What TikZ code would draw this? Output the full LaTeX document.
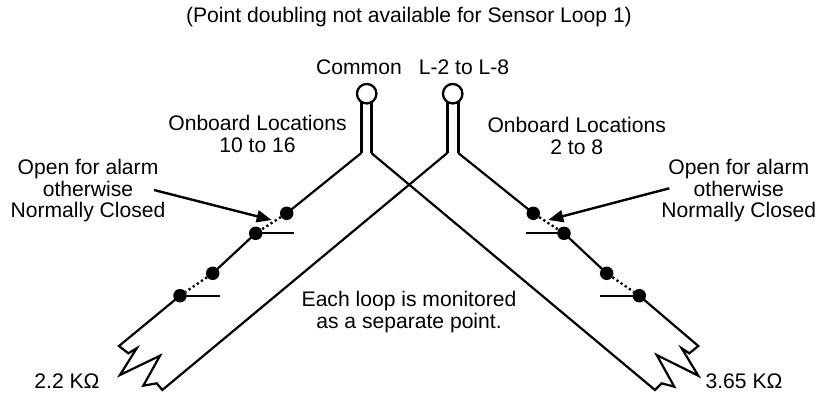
\documentclass[tikz,border=0pt]{standalone}
\usepackage{fontspec}
\setmainfont{Liberation Sans}
\usetikzlibrary{arrows.meta}
\tikzset{
  x=1pt,y=-1pt,
  wire/.style={line width=2.2pt,line join=miter,black},
  thick wire/.style={line width=3pt,black},
  contact/.style={circle,fill=black,draw=none,minimum size=13.5pt,inner sep=0pt},
  terminal/.style={circle,fill=white,draw=black,line width=2.3pt,minimum size=19.5pt,inner sep=0pt},
  lab/.style={font=\fontsize{21.1pt}{21.5pt}\selectfont,align=center,inner sep=0pt,black},
  link/.style={line width=2.4pt,dash pattern=on 2.2pt off 2.8pt,black},
  pointer/.style={line width=2.4pt,black,-{Triangle[length=15pt,width=12pt]}}
}
\begin{document}
\begin{tikzpicture}
\useasboundingbox (0,0) rectangle (819,393);
% terminals and junctions
\coordinate (cl) at (361.3,153);
\coordinate (cr) at (371.3,153);
\coordinate (ll) at (447.3,153);
\coordinate (lr) at (458.3,153);
\draw[thick wire] (cl) -- (361.3,100);
\draw[thick wire] (cr) -- (371.3,100);
\draw[thick wire] (ll) -- (447.3,100);
\draw[thick wire] (lr) -- (458.3,100);
\node[terminal] (common) at (366.7,93.7) {};
\node[terminal] (l28) at (452.7,93.7) {};
% contacts
\node[contact] (a1) at (286.7,213.3) {};
\node[contact] (a2) at (255.7,233.3) {};
\node[contact] (a3) at (212.7,273.3) {};
\node[contact] (a4) at (180,295.7) {};
\node[contact] (b1) at (533.3,213.3) {};
\node[contact] (b2) at (564,233.3) {};
\node[contact] (b3) at (606.7,273.3) {};
\node[contact] (b4) at (639.3,295.7) {};
\coordinate (a2e) at (294,233.3);
\coordinate (a4e) at (220,295.7);
\coordinate (b2e) at (526,233.3);
\coordinate (b4e) at (600,295.7);
\draw[wire] (a2.center) -- (a2e);
\draw[wire] (a4.center) -- (a4e);
\draw[wire] (b2.center) -- (b2e);
\draw[wire] (b4.center) -- (b4e);
\draw[link] (a1) -- (a2);
\draw[link] (a3) -- (a4);
\draw[link] (b1) -- (b2);
\draw[link] (b3) -- (b4);
\draw[wire] (cl) -- (a1.center);
\draw[wire] (a2.center) -- (a3.center);
\draw[wire] (lr) -- (b1.center);
\draw[wire] (b2.center) -- (b3.center);
% left loop with resistor
\draw[wire] (a4.center) -- (119,346) -- (128.3,353.3) -- (136.7,348.3) -- (120,375) -- (160,355.7) -- (143.3,385.7) -- (156.7,383.3) -- (162.3,390) -- (ll);
% right loop with resistor
\draw[wire] (b4.center) -- (698.3,346) -- (689.3,353.3) -- (681.7,348.3) -- (698.3,375.7) -- (656.7,355) -- (674.3,386.7) -- (661.7,383.3) -- (655,390) -- (cr);
% labels
\node[lab] (title) at (409,17) {(Point doubling not available for Sensor Loop 1)};
\node[lab] (tcommon) at (359,67) {Common};
\node[lab] (tl) at (464,67) {L-2 to L-8};
\node[lab] (on1) at (257.5,134) {Onboard Locations\\10 to 16};
\node[lab] (on2) at (576.7,136) {Onboard Locations\\2 to 8};
\node[lab] (open1) at (88,191) {Open for alarm\\otherwise\\Normally Closed};
\node[lab] (open2) at (738.8,191) {Open for alarm\\otherwise\\Normally Closed};
\node[lab] (each) at (409,312) {Each loop is monitored\\as a separate point.};
\node[lab] (r1) at (67,381) {2.2 KΩ};
\node[lab] (r2) at (744,381) {3.65 KΩ};
% pointers
\coordinate (p1) at (154,190);
\coordinate (p1t) at (271.7,220);
\coordinate (p2) at (669.3,188.3);
\coordinate (p2t) at (548.3,220);
\draw[pointer] (p1) -- (p1t);
\draw[pointer] (p2) -- (p2t);
\end{tikzpicture}
\end{document}
